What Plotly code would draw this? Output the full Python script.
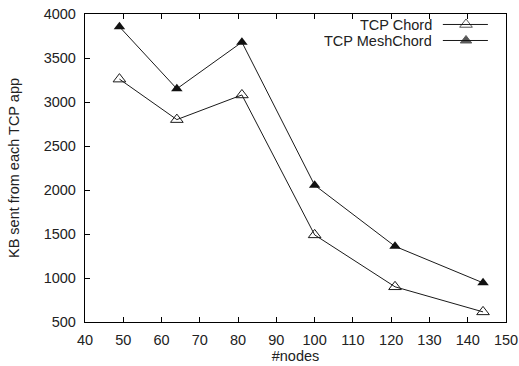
import plotly.graph_objects as go

nodes = [49, 64, 81, 100, 121, 144]
tcp_chord = [3260, 2800, 3080, 1490, 900, 615]
tcp_meshchord = [3855, 3150, 3680, 2055, 1360, 945]
series_names = ["TCP Chord", "TCP MeshChord"]
x_ticks = [40, 50, 60, 70, 80, 90, 100, 110, 120, 130, 140, 150]
y_ticks = [500, 1000, 1500, 2000, 2500, 3000, 3500, 4000]

FONT = "Liberation Sans, Arial, sans-serif"
TXT = "#222222"

fig = go.Figure()
fig.add_trace(go.Scatter(
    x=nodes, y=tcp_chord, mode="lines+markers", name=series_names[0],
    line=dict(color="#1a1a1a", width=1),
    marker=dict(symbol="triangle-up-open", size=11, color="#1a1a1a", line=dict(width=1)),
    showlegend=False, cliponaxis=False))
fig.add_trace(go.Scatter(
    x=nodes, y=tcp_meshchord, mode="lines+markers", name=series_names[1],
    line=dict(color="#1a1a1a", width=1),
    marker=dict(symbol="triangle-up", size=10, color="#111111"),
    showlegend=False, cliponaxis=False))

# legend keys (text on the left, sample on the right) drawn on a hidden overlay axis
key_rows = [0.966, 0.914]
key_x = [0.850, 0.905, 0.957]
key_symbols = ["triangle-up-open", "triangle-up"]
for name, yk, sym in zip(series_names, key_rows, key_symbols):
    fig.add_trace(go.Scatter(
        x=key_x, y=[yk] * 3, xaxis="x2", yaxis="y2", mode="lines+markers",
        line=dict(color="#1a1a1a", width=1),
        marker=dict(symbol=sym, size=[0, 11 if "open" in sym else 10, 0],
                    color="#111111", line=dict(width=1)),
        showlegend=False, hoverinfo="skip"))
    fig.add_annotation(x=0.827, y=yk, xref="paper", yref="paper", text=name,
                       showarrow=False, xanchor="right", yanchor="middle",
                       height=13, valign="middle", borderpad=0,
                       font=dict(family=FONT, size=14.5, color=TXT))

fig.update_layout(
    width=519, height=366,
    margin=dict(l=85, r=13, t=14, b=44),
    plot_bgcolor="white", paper_bgcolor="white",
    font=dict(family=FONT, size=14.5, color=TXT),
    xaxis=dict(range=[40, 150], tickvals=x_ticks, ticks="inside", ticklen=5,
               tickcolor="black", showline=True, linecolor="black", linewidth=1.3,
               mirror="ticks", showgrid=False, zeroline=False, ticklabelstandoff=4,
               automargin=False,
               title=dict(text="#nodes", standoff=4, font=dict(size=14.5))),
    yaxis=dict(range=[500, 4000], tickvals=y_ticks, ticks="inside", ticklen=5,
               tickcolor="black", showline=True, linecolor="black", linewidth=1.3,
               mirror=True, showgrid=False, zeroline=False, ticklabelstandoff=5,
               automargin=False,
               title=dict(text="KB sent from each TCP app", standoff=20, font=dict(size=14.5))),
    xaxis2=dict(overlaying="x", range=[0, 1], visible=False, anchor="y2"),
    yaxis2=dict(overlaying="y", range=[0, 1], visible=False, anchor="x2"),
)

fig.write_html("out.html")
